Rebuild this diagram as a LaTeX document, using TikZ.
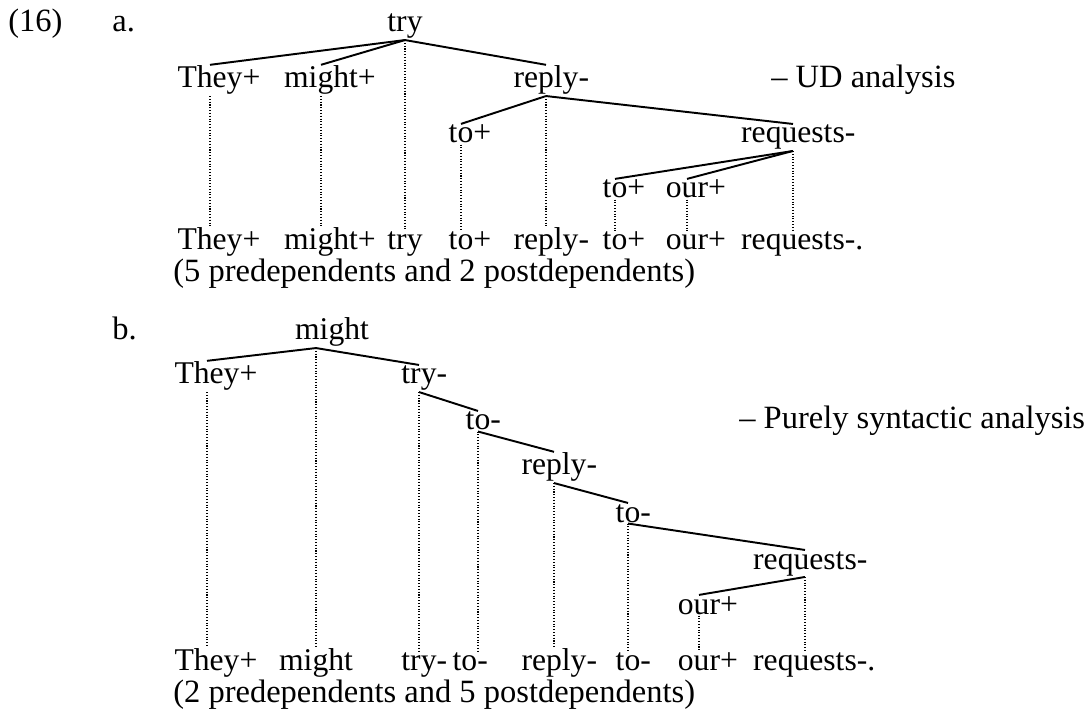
\documentclass[tikz,border=0pt]{standalone}
\usepackage{fontspec}
\setmainfont{Liberation Serif}
\usepackage{tikz}

\begin{document}
\begin{tikzpicture}[x=0.02cm, y=-0.02cm,
		word/.style={anchor=base, inner sep=0.5pt, font=\fontsize{18}{22}\selectfont},
		note/.style={anchor=base west, inner sep=0pt, font=\fontsize{18.5}{22}\selectfont},
		dep/.style={line width=1.1pt},
		proj/.style={line width=0.65pt, dash pattern=on 0.6pt off 1pt}]
	\useasboundingbox (0, 0) rectangle (1084, 715);
	% labels
	\node[note] (num)at(8, 32) {(16)};
	\node[note] (la)at(112, 32) {a.};
	\node[note] (lb)at(112, 340) {b.};
	\node[note] (uda)at(771, 88) {-- UD analysis};
	\node[note] (syn)at(739, 429) {-- Purely syntactic analysis};
	\node[note] (suma)at(173, 282) {(5 predependents and 2 postdependents)};
	\node[note] (sumb)at(173, 702) {(2 predependents and 5 postdependents)};
	% a. tree
	\node[word] (tryA)at(405, 32) {try};
	\node[word] (theyA)at(210, 88) {They\rlap{+}};
	\node[word] (mightA)at(321, 88) {might\rlap{+}};
	\node[word] (replyA)at(546, 88) {reply\rlap{-}};
	\node[word] (toA)at(461, 143) {to\rlap{+}};
	\node[word] (reqA)at(793, 143) {requests\rlap{-}};
	\node[word] (toAA)at(615, 198) {to\rlap{+}};
	\node[word] (ourA)at(687, 198) {our\rlap{+}};
	% a. string
	\node[word] (theyAs)at(210, 250) {They\rlap{+}};
	\node[word] (mightAs)at(321, 250) {might\rlap{+}};
	\node[word] (tryAs)at(405, 250) {try};
	\node[word] (toAs)at(461, 250) {to\rlap{+}};
	\node[word] (replyAs)at(546, 250) {reply\rlap{-}};
	\node[word] (toAAs)at(615, 250) {to\rlap{+}};
	\node[word] (ourAs)at(687, 250) {our\rlap{+}};
	\node[word] (reqAs)at(793, 250) {requests\rlap{-.}};
	\draw[dep] (tryA.south) -- (theyA.north);
	\draw[dep] (tryA.south) -- (mightA.north);
	\draw[dep] (tryA.south) -- (replyA.north);
	\draw[dep] (replyA.south) -- (toA.north);
	\draw[dep] (replyA.south) -- (reqA.north);
	\draw[dep] (reqA.south) -- (toAA.north);
	\draw[dep] (reqA.south) -- (ourA.north);
	\draw[proj] (theyA) -- (theyAs);
	\draw[proj] (mightA) -- (mightAs);
	\draw[proj] (tryA) -- (tryAs);
	\draw[proj] (toA) -- (toAs);
	\draw[proj] (replyA) -- (replyAs);
	\draw[proj] (toAA) -- (toAAs);
	\draw[proj] (ourA) -- (ourAs);
	\draw[proj] (reqA) -- (reqAs);
	% b. tree
	\node[word] (mightB)at(332, 340) {might};
	\node[word] (theyB)at(207, 384) {They\rlap{+}};
	\node[word] (tryB)at(419, 384) {try\rlap{-}};
	\node[word] (toB)at(478, 430) {to\rlap{-}};
	\node[word] (replyB)at(554, 475) {reply\rlap{-}};
	\node[word] (toBB)at(628, 522) {to\rlap{-}};
	\node[word] (reqB)at(805, 569) {requests\rlap{-}};
	\node[word] (ourB)at(699, 614) {our\rlap{+}};
	% b. string
	\node[word] (theyBs)at(207, 670) {They\rlap{+}};
	\node[word] (mightBs)at(316, 670) {might};
	\node[word] (tryBs)at(419, 670) {try\rlap{-}};
	\node[word] (toBs)at(465, 670) {to\rlap{-}};
	\node[word] (replyBs)at(554, 670) {reply\rlap{-}};
	\node[word] (toBBs)at(628, 670) {to\rlap{-}};
	\node[word] (ourBs)at(699, 670) {our\rlap{+}};
	\node[word] (reqBs)at(805, 670) {requests\rlap{-.}};
	\coordinate (mightJ) at (mightB.south -| mightBs);
	\draw[dep] (mightJ) -- (theyB.north);
	\draw[dep] (mightJ) -- (tryB.north);
	\draw[dep] (tryB.south) -- (toB.north);
	\draw[dep] (toB.south) -- (replyB.north);
	\draw[dep] (replyB.south) -- (toBB.north);
	\draw[dep] (toBB.south) -- (reqB.north);
	\draw[dep] (reqB.south) -- (ourB.north);
	\draw[proj] (theyB) -- (theyBs);
	\draw[proj] (mightJ) -- (mightBs);
	\draw[proj] (tryB) -- (tryBs);
	\draw[proj] (toB) -- (toB |- toBs.north);
	\draw[proj] (replyB) -- (replyBs);
	\draw[proj] (toBB) -- (toBBs);
	\draw[proj] (ourB) -- (ourBs);
	\draw[proj] (reqB) -- (reqBs);
\end{tikzpicture}
\end{document}
